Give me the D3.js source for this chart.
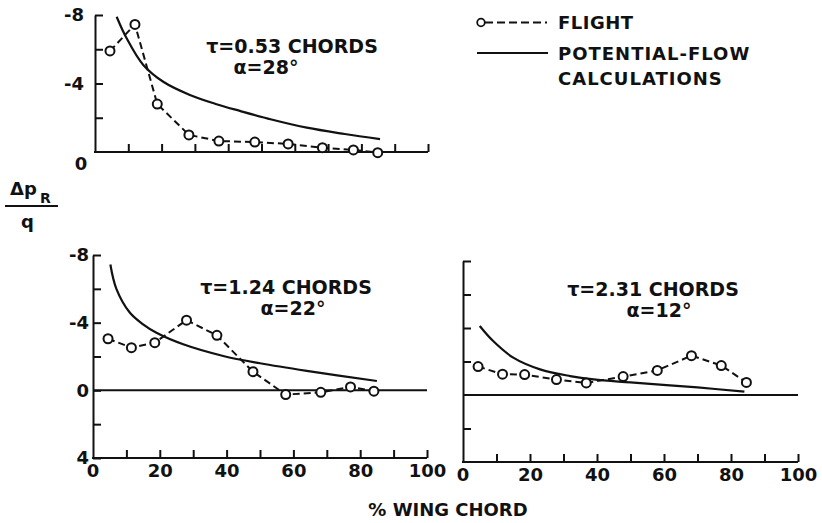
<!DOCTYPE html>
<html lang="en">
<head>
<meta charset="utf-8"/>
<title>Pressure distribution</title>
<script src="https://d3js.org/d3.v7.min.js"></script>
<style>
  body { margin: 0; background: #fff; }
  svg text { font-family: "DejaVu Sans", sans-serif; font-weight: bold; fill: #111; }
  .tick text { font-size: 18px; }
  .domain, .tick line { stroke: #111; stroke-width: 2px; }
</style>
</head>
<body>
<div id="chart"></div>
<script>
// tick labels
var xTickLabels = [0, 20, 40, 60, 80, 100];
var yTickLabels = [-8, -4, 0, 4];

// tau = 0.53 chords, alpha = 28 deg
var flightA_x = [4.5, 12, 18.7, 28.2, 37.2, 48, 58, 68.3, 77.6, 84.9];
var flightA_y = [-5.9, -7.45, -2.8, -1.0, -0.64, -0.58, -0.47, -0.25, -0.12, 0.04];
var flowA_x = [6.5, 9.5, 14.5, 20.5, 28.5, 36.5, 43.5, 53, 63.6, 75, 85.6];
var flowA_y = [-7.9, -6.64, -5.08, -4.1, -3.33, -2.79, -2.4, -1.9, -1.42, -1.05, -0.75];

// tau = 1.24 chords, alpha = 22 deg
var flightB_x = [4.5, 11.5, 18.5, 28, 37.1, 47.9, 57.7, 68.2, 77.1, 84.1];
var flightB_y = [-3.05, -2.52, -2.82, -4.15, -3.25, -1.1, 0.25, 0.12, -0.2, 0.05];
var flowB_x = [5.2, 7, 11, 15, 19, 27, 39, 50, 64, 85];
var flowB_y = [-7.44, -6.0, -4.6, -3.9, -3.4, -2.72, -2.03, -1.6, -1.15, -0.55];

// tau = 2.31 chords, alpha = 12 deg
var flightC_x = [4.5, 11.8, 18.4, 27.9, 36.8, 47.8, 58, 68.2, 77.1, 84.6];
var flightC_y = [-1.7, -1.24, -1.22, -0.92, -0.72, -1.1, -1.47, -2.35, -1.76, -0.75];
var flowC_x = [5, 9, 15, 23, 32, 39, 50, 70, 84];
var flowC_y = [-4.12, -3.22, -2.23, -1.53, -1.13, -0.93, -0.75, -0.45, -0.2];

var width = 822, height = 523;

var svg = d3.select("#chart").append("svg")
  .attr("width", width)
  .attr("height", height);

function zip(xs, ys) { return xs.map(function(d, i) { return [d, ys[i]]; }); }

// panel layout
var panels = [
  { fx: flightA_x, fy: flightA_y, px: flowA_x, py: flowA_y,
    xr: [95, 428], yd: [-8, 0], yr: [15, 152], pad: 11,
    yTicks: [-8, -6, -4, -2], yLabels: [-8, -4], xLabels: false, zeroLine: false,
    tau: "\u03C4=0.53 CHORDS", alpha: "\u03B1=28\u00B0", tx: 292, ty: 53, ax: 266, ay: 74 },
  { fx: flightB_x, fy: flightB_y, px: flowB_x, py: flowB_y,
    xr: [93, 427], yd: [-8, 4], yr: [255, 458], pad: 4,
    yTicks: [-8, -6, -4, -2, 0, 2, 4], yLabels: yTickLabels, xLabels: true, zeroLine: true,
    tau: "\u03C4=1.24 CHORDS", alpha: "\u03B1=22\u00B0", tx: 286, ty: 294, ax: 293, ay: 315 },
  { fx: flightC_x, fy: flightC_y, px: flowC_x, py: flowC_y,
    xr: [463, 798], yd: [-8, 4], yr: [261, 462], pad: 4,
    yTicks: [-8, -6, -4, -2, 2], yLabels: [], xLabels: true, zeroLine: true,
    tau: "\u03C4=2.31 CHORDS", alpha: "\u03B1=12\u00B0", tx: 653, ty: 296, ax: 659, ay: 317 }
];

panels.forEach(function(p) {
  var x = d3.scaleLinear().domain([0, 100]).range(p.xr);
  var y = d3.scaleLinear().domain(p.yd).range(p.yr);
  var g = svg.append("g");

  // y axis (inward ticks)
  g.append("g")
    .attr("transform", "translate(" + x(0) + ",0)")
    .call(d3.axisLeft(y)
      .tickValues(p.yTicks)
      .tickSize(-8)
      .tickSizeOuter(0)
      .tickPadding(p.pad)
      .tickFormat(function(d) { return p.yLabels.indexOf(d) >= 0 ? d : ""; }));

  // x axis at bottom of panel (inward ticks)
  var xa = g.append("g")
    .attr("transform", "translate(0," + y(p.yd[1]) + ")")
    .call(d3.axisBottom(x)
      .tickValues(d3.range(10, 101, 10))
      .tickSize(-8)
      .tickSizeOuter(0)
      .tickPadding(6)
      .tickFormat(function(d) { return p.xLabels && xTickLabels.indexOf(d) >= 0 ? d : ""; }));
  xa.select(".domain").attr("d", "M" + (x(0) - 1) + ",0H" + x(100));

  if (p.xLabels) {
    xa.append("text")
      .attr("x", x(0)).attr("y", 6).attr("dy", "0.71em")
      .attr("text-anchor", "middle")
      .style("font-size", "18px")
      .text(xTickLabels[0]);
  }

  if (p.zeroLine) {
    g.append("line")
      .attr("x1", x(0)).attr("x2", x(100))
      .attr("y1", y(0)).attr("y2", y(0))
      .attr("stroke", "#111").attr("stroke-width", 2);
  }

  // potential-flow calculation
  g.append("path")
    .datum(zip(p.px, p.py))
    .attr("fill", "none")
    .attr("stroke", "#111")
    .attr("stroke-width", 2.2)
    .attr("d", d3.line()
      .x(function(d) { return x(d[0]); })
      .y(function(d) { return y(d[1]); })
      .curve(d3.curveCatmullRom.alpha(0.5)));

  // flight data
  var pts = zip(p.fx, p.fy);
  g.append("path")
    .datum(pts)
    .attr("fill", "none")
    .attr("stroke", "#111")
    .attr("stroke-width", 2)
    .attr("stroke-dasharray", "7,4")
    .attr("d", d3.line()
      .x(function(d) { return x(d[0]); })
      .y(function(d) { return y(d[1]); }));

  g.selectAll("circle")
    .data(pts)
    .enter().append("circle")
      .attr("cx", function(d) { return x(d[0]); })
      .attr("cy", function(d) { return y(d[1]); })
      .attr("r", 4.5)
      .attr("fill", "#fff")
      .attr("stroke", "#111")
      .attr("stroke-width", 2);

  g.append("text")
    .attr("x", p.tx).attr("y", p.ty)
    .attr("text-anchor", "middle")
    .style("font-size", "19px")
    .text(p.tau);
  g.append("text")
    .attr("x", p.ax).attr("y", p.ay)
    .attr("text-anchor", "middle")
    .style("font-size", "19px")
    .text(p.alpha);
});

// "0" under the top panel's y axis
svg.append("text")
  .attr("x", 81).attr("y", 170)
  .attr("text-anchor", "middle")
  .style("font-size", "18px")
  .text("0");

// y-axis title
var yl = svg.append("g");
yl.append("text").attr("x", 10).attr("y", 195).style("font-size", "18px").text("\u0394p");
yl.append("text").attr("x", 40).attr("y", 203).style("font-size", "14px").text("R");
yl.append("line").attr("x1", 5).attr("x2", 58).attr("y1", 206).attr("y2", 206)
  .attr("stroke", "#111").attr("stroke-width", 2);
yl.append("text").attr("x", 21).attr("y", 228).style("font-size", "18px").text("q");

// x-axis title
svg.append("text")
  .attr("x", 448).attr("y", 516)
  .attr("text-anchor", "middle")
  .style("font-size", "18px")
  .text("% WING  CHORD");

// legend
var leg = svg.append("g");
leg.append("line").attr("x1", 485).attr("x2", 547).attr("y1", 22.5).attr("y2", 22.5)
  .attr("stroke", "#111").attr("stroke-width", 2).attr("stroke-dasharray", "8,4");
leg.append("circle").attr("cx", 481).attr("cy", 22.5).attr("r", 3.8)
  .attr("fill", "#fff").attr("stroke", "#111").attr("stroke-width", 1.8);
leg.append("text").attr("x", 558).attr("y", 29).style("font-size", "18px").style("letter-spacing", "0.5px").text("FLIGHT");
leg.append("line").attr("x1", 477).attr("x2", 548).attr("y1", 53).attr("y2", 53)
  .attr("stroke", "#111").attr("stroke-width", 2);
leg.append("text").attr("x", 558).attr("y", 60).style("font-size", "18px").style("letter-spacing", "1px").text("POTENTIAL-FLOW");
leg.append("text").attr("x", 558).attr("y", 85).style("font-size", "18px").style("letter-spacing", "1px").text("CALCULATIONS");
</script>
</body>
</html>
